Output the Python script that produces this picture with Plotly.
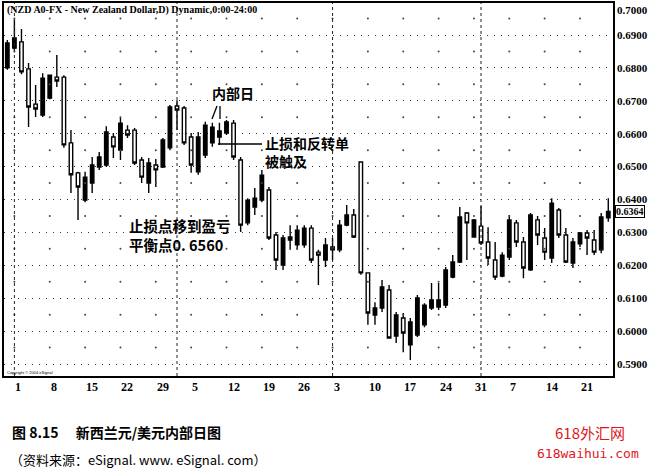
import plotly.graph_objects as go

# ---------------- data (NZD/USD daily) ----------------
opens = [0.6800, 0.6860, 0.6879, 0.6797, 0.6690, 0.6657, 0.6708, 0.6772, 0.6772, 0.6572,
         0.6481, 0.6398, 0.6450, 0.6499, 0.6505, 0.6590, 0.6550, 0.6611, 0.6611, 0.6520,
         0.6450, 0.6505, 0.6499, 0.6557, 0.6684, 0.6678, 0.6590, 0.6484, 0.6535, 0.6572,
         0.6590, 0.6602, 0.6632, 0.6520, 0.6329, 0.6377, 0.6398, 0.6429, 0.6292, 0.6201,
         0.6277, 0.6262, 0.6262, 0.6313, 0.6240, 0.6216, 0.6256, 0.6247, 0.6322, 0.6353,
         0.6514, 0.6177, 0.6049, 0.6070, 0.6125, 0.5985, 0.6040, 0.5958, 0.5988, 0.6019,
         0.6070, 0.6073, 0.6079, 0.6164, 0.6210, 0.6359, 0.6286, 0.6319, 0.6271, 0.6216,
         0.6167, 0.6225, 0.6329, 0.6271, 0.6186, 0.6338, 0.6283, 0.6222, 0.6368, 0.6292,
         0.6207, 0.6265, 0.6298, 0.6277, 0.6247, 0.6344]
highs = [0.6885, 0.6946, 0.6918, 0.6815, 0.6748, 0.6784, 0.6780, 0.6839, 0.6778, 0.6611,
         0.6484, 0.6484, 0.6529, 0.6544, 0.6623, 0.6602, 0.6648, 0.6626, 0.6617, 0.6529,
         0.6526, 0.6523, 0.6587, 0.6687, 0.6702, 0.6684, 0.6602, 0.6605, 0.6636, 0.6633,
         0.6633, 0.6642, 0.6642, 0.6529, 0.6404, 0.6435, 0.6490, 0.6438, 0.6301, 0.6292,
         0.6322, 0.6322, 0.6322, 0.6322, 0.6247, 0.6283, 0.6283, 0.6338, 0.6383, 0.6371,
         0.6514, 0.6177, 0.6088, 0.6155, 0.6140, 0.6058, 0.6055, 0.6040, 0.6110, 0.6085,
         0.6146, 0.6146, 0.6195, 0.6231, 0.6377, 0.6362, 0.6341, 0.6380, 0.6316, 0.6271,
         0.6240, 0.6353, 0.6338, 0.6286, 0.6359, 0.6350, 0.6313, 0.6404, 0.6374, 0.6313,
         0.6283, 0.6301, 0.6307, 0.6307, 0.6359, 0.6404]
lows = [0.6794, 0.6854, 0.6781, 0.6620, 0.6651, 0.6651, 0.6705, 0.6742, 0.6557, 0.6420,
        0.6338, 0.6392, 0.6420, 0.6490, 0.6499, 0.6526, 0.6520, 0.6587, 0.6505, 0.6450,
        0.6420, 0.6438, 0.6496, 0.6550, 0.6611, 0.6566, 0.6481, 0.6475, 0.6526, 0.6560,
        0.6566, 0.6596, 0.6520, 0.6301, 0.6322, 0.6353, 0.6392, 0.6277, 0.6186, 0.6186,
        0.6247, 0.6247, 0.6253, 0.6207, 0.6140, 0.6195, 0.6216, 0.6240, 0.6319, 0.6283,
        0.6171, 0.6019, 0.6019, 0.6058, 0.5979, 0.5964, 0.5936, 0.5912, 0.5982, 0.6012,
        0.6064, 0.6064, 0.6070, 0.6161, 0.6207, 0.6216, 0.6286, 0.6262, 0.6201, 0.6155,
        0.6164, 0.6216, 0.6256, 0.6161, 0.6183, 0.6262, 0.6216, 0.6207, 0.6283, 0.6207,
        0.6192, 0.6256, 0.6231, 0.6231, 0.6237, 0.6332]
closes = [0.6876, 0.6891, 0.6788, 0.6681, 0.6675, 0.6769, 0.6778, 0.6760, 0.6566, 0.6475,
          0.6438, 0.6468, 0.6505, 0.6529, 0.6605, 0.6560, 0.6632, 0.6596, 0.6511, 0.6468,
          0.6511, 0.6490, 0.6581, 0.6681, 0.6672, 0.6572, 0.6505, 0.6590, 0.6626, 0.6620,
          0.6608, 0.6636, 0.6529, 0.6322, 0.6398, 0.6404, 0.6474, 0.6283, 0.6216, 0.6283,
          0.6286, 0.6307, 0.6313, 0.6216, 0.6231, 0.6262, 0.6247, 0.6322, 0.6353, 0.6286,
          0.6177, 0.6055, 0.6070, 0.6134, 0.5979, 0.6049, 0.5994, 0.6028, 0.6101, 0.6079,
          0.6095, 0.6095, 0.6186, 0.6210, 0.6347, 0.6329, 0.6338, 0.6268, 0.6222, 0.6164,
          0.6231, 0.6338, 0.6271, 0.6192, 0.6353, 0.6292, 0.6240, 0.6389, 0.6292, 0.6210,
          0.6271, 0.6298, 0.6283, 0.6240, 0.6347, 0.6364]

# Monday positions (bar index) and their day-of-month labels
week_pos = [1, 6, 11, 16, 21, 26, 31, 36, 41, 46, 51, 56, 61, 66, 71, 76, 81]
week_labels = ["1", "8", "15", "22", "29", "5", "12", "19", "26", "3", "10", "17",
               "24", "31", "7", "14", "21"]
month_start_pos = [1, 24, 46, 67]          # first bar of Mar, Apr, May, Jun
price_ticks = [0.59, 0.60, 0.61, 0.62, 0.63, 0.64, 0.65, 0.66, 0.67, 0.68, 0.69]
price_labels = ["0.5900", "0.6000", "0.6100", "0.6200", "0.6300", "0.6400",
                "0.6500", "0.6600", "0.6700", "0.6800", "0.6900"]
half_levels = [0.595, 0.605, 0.615, 0.625, 0.635, 0.645, 0.655, 0.665, 0.675, 0.685, 0.695]
last_price = "0.6364"

x_idx = list(range(len(opens)))

# ---------------- layout helpers (pixel -> paper) ----------------
W, H = 652, 471
L, R, T, B = 4, 613, 3, 376


def xp(px):
    return (px - L) / (R - L)


def yp(py):
    return (B - py) / (B - T)


fig = go.Figure()

# sparse grid dots at Mondays / half levels
gx, gy = [], []
for w in week_pos:
    for h in half_levels:
        gx.append(w)
        gy.append(h)
fig.add_trace(go.Scatter(x=gx, y=gy, mode="markers",
                         marker=dict(size=2, color="#444"),
                         hoverinfo="skip", showlegend=False))

fig.add_trace(go.Candlestick(
    x=x_idx, open=opens, high=highs, low=lows, close=closes,
    increasing=dict(fillcolor="black", line=dict(color="black", width=1.4)),
    decreasing=dict(fillcolor="white", line=dict(color="black", width=1.4)),
    whiskerwidth=0, showlegend=False))

shapes = []
for m in month_start_pos:
    shapes.append(dict(type="line", xref="x", yref="paper", x0=m, x1=m, y0=0, y1=1,
                       line=dict(color="#222", width=1, dash="dot")))
# stop line and inside-day pointers
shapes.append(dict(type="line", xref="paper", yref="paper",
                   x0=xp(218), x1=xp(262), y0=yp(144), y1=yp(144),
                   line=dict(color="black", width=1.5)))
shapes.append(dict(type="line", xref="paper", yref="paper",
                   x0=xp(217), x1=xp(212), y0=yp(106), y1=yp(119),
                   line=dict(color="black", width=1.3)))
shapes.append(dict(type="line", xref="paper", yref="paper",
                   x0=xp(220), x1=xp(220), y0=yp(106), y1=yp(119),
                   line=dict(color="black", width=1.3)))

ann = []
# date labels (left aligned at the Monday bar)
for pos, lab in zip(week_pos, week_labels):
    ann.append(dict(x=pos, y=0, xref="x", yref="paper", text=lab, showarrow=False,
                    xanchor="left", yanchor="top", xshift=-1, yshift=-2,
                    font=dict(family="Liberation Serif", size=12, color="black", weight="bold")))
# top price label and last price box
ann.append(dict(x=1, y=1, xref="paper", yref="paper", text="0.7000", showarrow=False,
                xanchor="left", yanchor="top", xshift=2, yshift=1,
                font=dict(family="Liberation Serif", size=11, color="black", weight="bold")))
ann.append(dict(x=1, y=float(last_price), xref="paper", yref="y", text=last_price,
                showarrow=False, xanchor="left", yanchor="middle", xshift=2,
                bordercolor="black", borderwidth=1, borderpad=0, bgcolor="white",
                font=dict(family="Liberation Serif", size=10, color="black", weight="bold")))
# chart header
ann.append(dict(x=xp(5), y=yp(10), xref="paper", yref="paper",
                text="(NZD A0-FX - New Zealand Dollar,D) Dynamic,0:00-24:00",
                showarrow=False, xanchor="left", yanchor="middle",
                font=dict(family="Liberation Serif", size=10, color="black", weight="bold")))
ann.append(dict(x=xp(5), y=yp(372), xref="paper", yref="paper",
                text="Copyright © 2004 eSignal", showarrow=False,
                xanchor="left", yanchor="middle",
                font=dict(family="Liberation Sans", size=4, color="black")))
cjk = "Noto Sans CJK SC"
ann.append(dict(x=xp(210), y=yp(93), xref="paper", yref="paper", text="内部日",
                showarrow=False, xanchor="left", yanchor="middle",
                font=dict(family=cjk, size=14, color="black", weight="bold")))
ann.append(dict(x=xp(263), y=yp(152), xref="paper", yref="paper",
                text="止损和反转单<br>被触及", align="left",
                showarrow=False, xanchor="left", yanchor="middle",
                font=dict(family=cjk, size=14, color="black", weight="bold")))
ann.append(dict(x=xp(127), y=yp(234.5), xref="paper", yref="paper",
                text="止损点移到盈亏<br>平衡点0. 6560", align="left",
                showarrow=False, xanchor="left", yanchor="middle",
                font=dict(family=cjk, size=14.5, color="black", weight="bold")))
# caption
ann.append(dict(x=xp(10), y=yp(432), xref="paper", yref="paper",
                text="图 8.15　 新西兰元/美元内部日图", showarrow=False,
                xanchor="left", yanchor="middle",
                font=dict(family=cjk, size=14, color="black", weight="bold")))
ann.append(dict(x=xp(8), y=yp(459), xref="paper", yref="paper",
                text="（资料来源：eSignal. www. eSignal. com）", showarrow=False,
                xanchor="left", yanchor="middle",
                font=dict(family=cjk, size=13, color="black")))
ann.append(dict(x=xp(590), y=yp(433), xref="paper", yref="paper", text="618外汇网",
                showarrow=False, xanchor="center", yanchor="middle",
                font=dict(family=cjk, size=15, color="#e0161c")))
ann.append(dict(x=xp(588), y=yp(454), xref="paper", yref="paper", text="618waihui.com",
                showarrow=False, xanchor="center", yanchor="middle",
                font=dict(family="DejaVu Sans Mono", size=13, color="#e0161c")))

y_lo = 0.69 - (B - 35) / 3290
y_hi = 0.69 + (35 - T) / 3290
x_lo = 1 + (L - 14.4) / 7.07
x_hi = 1 + (R - 14.4) / 7.07

fig.update_layout(
    width=W, height=H,
    margin=dict(l=L, r=W - R, t=T, b=H - B, autoexpand=False),
    paper_bgcolor="white", plot_bgcolor="white",
    shapes=shapes, annotations=ann,
    xaxis=dict(range=[x_lo, x_hi], showticklabels=False, showgrid=False,
               zeroline=False, showline=True, mirror=True, linecolor="black",
               linewidth=1.5, rangeslider=dict(visible=False), fixedrange=True,
               automargin=False),
    yaxis=dict(range=[y_lo, y_hi], side="right", tickvals=price_ticks,
               ticktext=price_labels, showgrid=True, gridcolor="#333",
               griddash="1px,6px", gridwidth=1, zeroline=False, showline=True,
               mirror=True, linecolor="black", linewidth=1.5, ticks="",
               ticklabelstandoff=0, automargin=False,
               tickfont=dict(family="Liberation Serif", size=11, color="black",
                             weight="bold")),
    showlegend=False,
)

fig.write_html("out.html", config={"displayModeBar": False},
               post_script="document.body.style.margin='0';document.body.style.padding='0';")
